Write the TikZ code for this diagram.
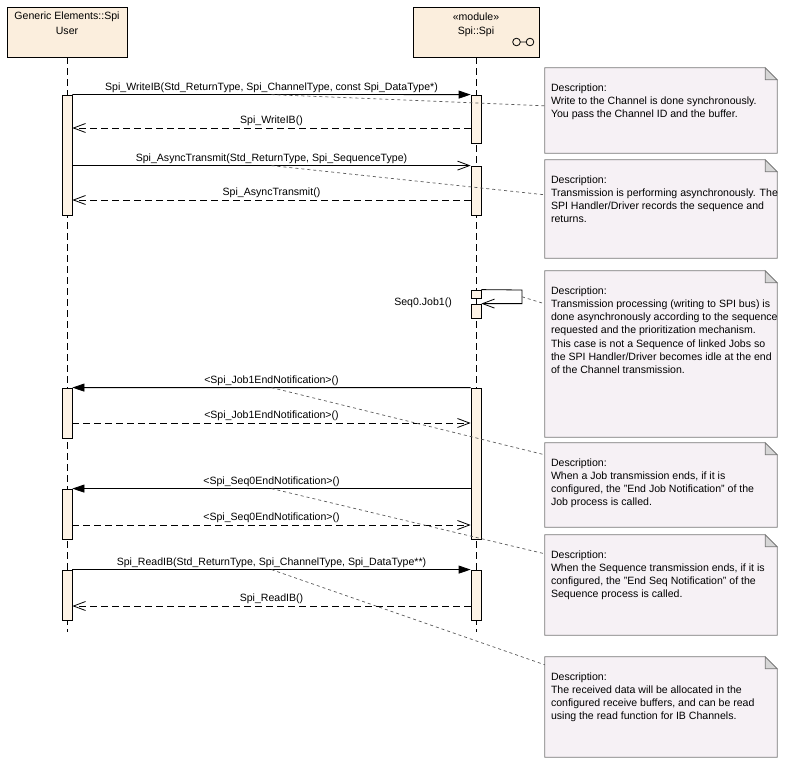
\documentclass[tikz,border=0pt]{standalone}
\usepackage{fontspec}
\setmainfont{Liberation Sans}
\usetikzlibrary{arrows.meta,calc}
\definecolor{hdrfill}{RGB}{251,238,221}
\definecolor{barfill}{RGB}{253,243,230}
\definecolor{notefill}{RGB}{246,241,245}
\definecolor{noteline}{RGB}{120,120,120}
\definecolor{foldfill}{RGB}{214,214,214}
\definecolor{linkgray}{RGB}{90,90,90}
\tikzset{
  hdr/.style={draw=black, fill=hdrfill, inner sep=0pt, line width=0.9bp},
  txt/.style={inner sep=0pt, font=\fontsize{10.6}{12}\selectfont},
  lifeline/.style={draw=black, line width=0.8bp, dash pattern=on 7bp off 4bp},
  bar/.style={draw=black, fill=barfill, minimum width=10bp, inner sep=0pt, line width=0.8bp},
  call/.style={draw=black, line width=0.8bp, -{Triangle[length=12bp,width=8bp]}},
  async/.style={draw=black, line width=0.8bp, -{Straight Barb[length=12bp,width=9bp]}},
  ret/.style={async, dash pattern=on 7bp off 4bp},
  lbl/.style={above, inner sep=2bp, yshift=0bp, font=\fontsize{10.6}{12}\selectfont},
  notebox/.style={inner sep=0pt, minimum width=232bp},
  notebody/.style={draw=noteline, fill=notefill, line width=0.8bp},
  fold/.style={draw=noteline, fill=foldfill, line width=0.8bp},
  notetext/.style={anchor=north west, inner sep=0pt, align=left, font=\fontsize{10.6}{13.3}\selectfont},
  link/.style={draw=linkgray, line width=0.7bp, dash pattern=on 3bp off 3bp},
}
\newcommand\drawnote[1]{%
  \path[notebody] (#1.north west) -- ([xshift=-12bp]#1.north east) -- ([yshift=-12bp]#1.north east) -- (#1.south east) -- (#1.south west) -- cycle;
  \path[fold] ([xshift=-12bp]#1.north east) -- ([xshift=-12bp,yshift=-12bp]#1.north east) -- ([yshift=-12bp]#1.north east) -- cycle;
}
\begin{document}
\begin{tikzpicture}[x=1bp,y=-1bp]
\useasboundingbox (0,0) rectangle (786,768);

% headers
\node[hdr, minimum width=120bp, minimum height=50bp] (user) at (67,32) {};
\node[txt] (usert1) at (67,16.5) {Generic Elements::Spi};
\node[txt] (usert2) at (67,30.5) {User};
\node[hdr, minimum width=126bp, minimum height=50bp] (spi) at (476,32) {};
\node[txt] (spit1) at (476,16.5) {«module»};
\node[txt] (spit2) at (476,32) {Spi::Spi};
\draw[line width=0.8bp] (516.5,42) circle[radius=3.8bp] (520.3,42) -- (526.2,42) (530,42) circle[radius=3.8bp];

% lifelines
\coordinate (uend) at (67,632);
\coordinate (send) at (476,632);
\draw[lifeline] (user.south) -- (uend);
\draw[lifeline] (spi.south) -- (send);

% activation bars
\node[bar, minimum height=120bp] (LA) at (67,155) {};
\node[bar, minimum height=48bp] (RA) at (476,119) {};
\node[bar, minimum height=49bp] (RB) at (476,190.5) {};
\node[bar, minimum height=8bp] (RS1) at (476,294) {};
\node[bar, minimum height=14bp] (RS2) at (476,311) {};
\node[bar, minimum height=151bp] (RC) at (476,463.5) {};
\node[bar, minimum height=50bp] (LB) at (67,413) {};
\node[bar, minimum height=50bp] (LC) at (67,514) {};
\node[bar, minimum height=50bp] (LD) at (67,595) {};
\node[bar, minimum height=50bp] (RD) at (476,595) {};

% row coordinates
\coordinate (y2) at (0,128);
\coordinate (y4) at (0,200);
\coordinate (y7) at (0,423);
\coordinate (y9) at (0,525);
\coordinate (y11) at (0,606);
\coordinate (lx) at (522,290);

% messages
\draw[call] (LA.north east) -- node[lbl] {Spi\_WriteIB(Std\_ReturnType, Spi\_ChannelType, const Spi\_DataType*)} coordinate (c1) (RA.north west);
\draw[ret] (RA.west |- y2) -- node[lbl] {Spi\_WriteIB()} (LA.east |- y2);
\draw[async] (LA.east |- RB.north) -- node[lbl] {Spi\_AsyncTransmit(Std\_ReturnType, Spi\_SequenceType)} coordinate (c3) (RB.north west);
\draw[ret] (RB.west |- y4) -- node[lbl] {Spi\_AsyncTransmit()} (LA.east |- y4);
\draw[async] (RS1.north east) -- (lx) -- coordinate (c5) (lx |- RS2.north) -- (RS2.north east);
\node[txt, anchor=east] (selflbl) at (452,303) {Seq0.Job1()};
\draw[call] (RC.north west) -- node[lbl] {<Spi\_Job1EndNotification>()} coordinate (c6) (LB.north east);
\draw[ret] (LB.east |- y7) -- node[lbl] {<Spi\_Job1EndNotification>()} (RC.west |- y7);
\draw[call] (RC.west |- LC.north) -- node[lbl] {<Spi\_Seq0EndNotification>()} coordinate (c8) (LC.north east);
\draw[ret] (LC.east |- y9) -- node[lbl] {<Spi\_Seq0EndNotification>()} (RC.west |- y9);
\draw[call] (LD.north east) -- node[lbl] {Spi\_ReadIB(Std\_ReturnType, Spi\_ChannelType, Spi\_DataType**)} coordinate (c10) (RD.north west);
\draw[ret] (RD.west |- y11) -- node[lbl] {Spi\_ReadIB()} (LD.east |- y11);

% notes
\node[notebox, minimum height=85bp] (N1) at (661,110.5) {};
\node[notebox, minimum height=98bp] (N2) at (661,209) {};
\node[notebox, minimum height=166bp] (N3) at (661,354) {};
\node[notebox, minimum height=84bp] (N4) at (661,485) {};
\node[notebox, minimum height=100bp] (N5) at (661,585) {};
\node[notebox, minimum height=100bp] (N6) at (661,707) {};
\drawnote{N1}\drawnote{N2}\drawnote{N3}\drawnote{N4}\drawnote{N5}\drawnote{N6}

\node[notetext] (T1) at ($(N1.north west)+(6,15.5)$) {Description:\\Write to the Channel is done synchronously.\\You pass the Channel ID and the buffer.};
\node[notetext] (T2) at ($(N2.north west)+(6,15.5)$) {Description:\\Transmission is performing asynchronously. The\\SPI Handler/Driver records the sequence and\\returns.};
\node[notetext] (T3) at ($(N3.north west)+(6,15.5)$) {Description:\\Transmission processing (writing to SPI bus) is\\done asynchronously according to the sequence\\requested and the prioritization mechanism.\\This case is not a Sequence of linked Jobs so\\the SPI Handler/Driver becomes idle at the end\\of the Channel transmission.};
\node[notetext] (T4) at ($(N4.north west)+(6,15.5)$) {Description:\\When a Job transmission ends, if it is\\configured, the "End Job Notification" of the\\Job process is called.};
\node[notetext] (T5) at ($(N5.north west)+(6,15.5)$) {Description:\\When the Sequence transmission ends, if it is\\configured, the "End Seq Notification" of the\\Sequence process is called.};
\node[notetext] (T6) at ($(N6.north west)+(6,15.5)$) {Description:\\The received data will be allocated in the\\configured receive buffers, and can be read\\using the read function for IB Channels.};

% note links
\draw[link] (c1) -- ($(N1.north west)+(0,38)$);
\draw[link] (c3) -- ($(N2.north west)+(0,35)$);
\draw[link] (c5) -- ($(N3.north west)+(0,33)$);
\draw[link] (c6) -- ($(N4.north west)+(0,12)$);
\draw[link] (c8) -- ($(N5.north west)+(0,19)$);
\draw[link] (c10) -- ($(N6.north west)+(0,8)$);
\end{tikzpicture}
\end{document}
